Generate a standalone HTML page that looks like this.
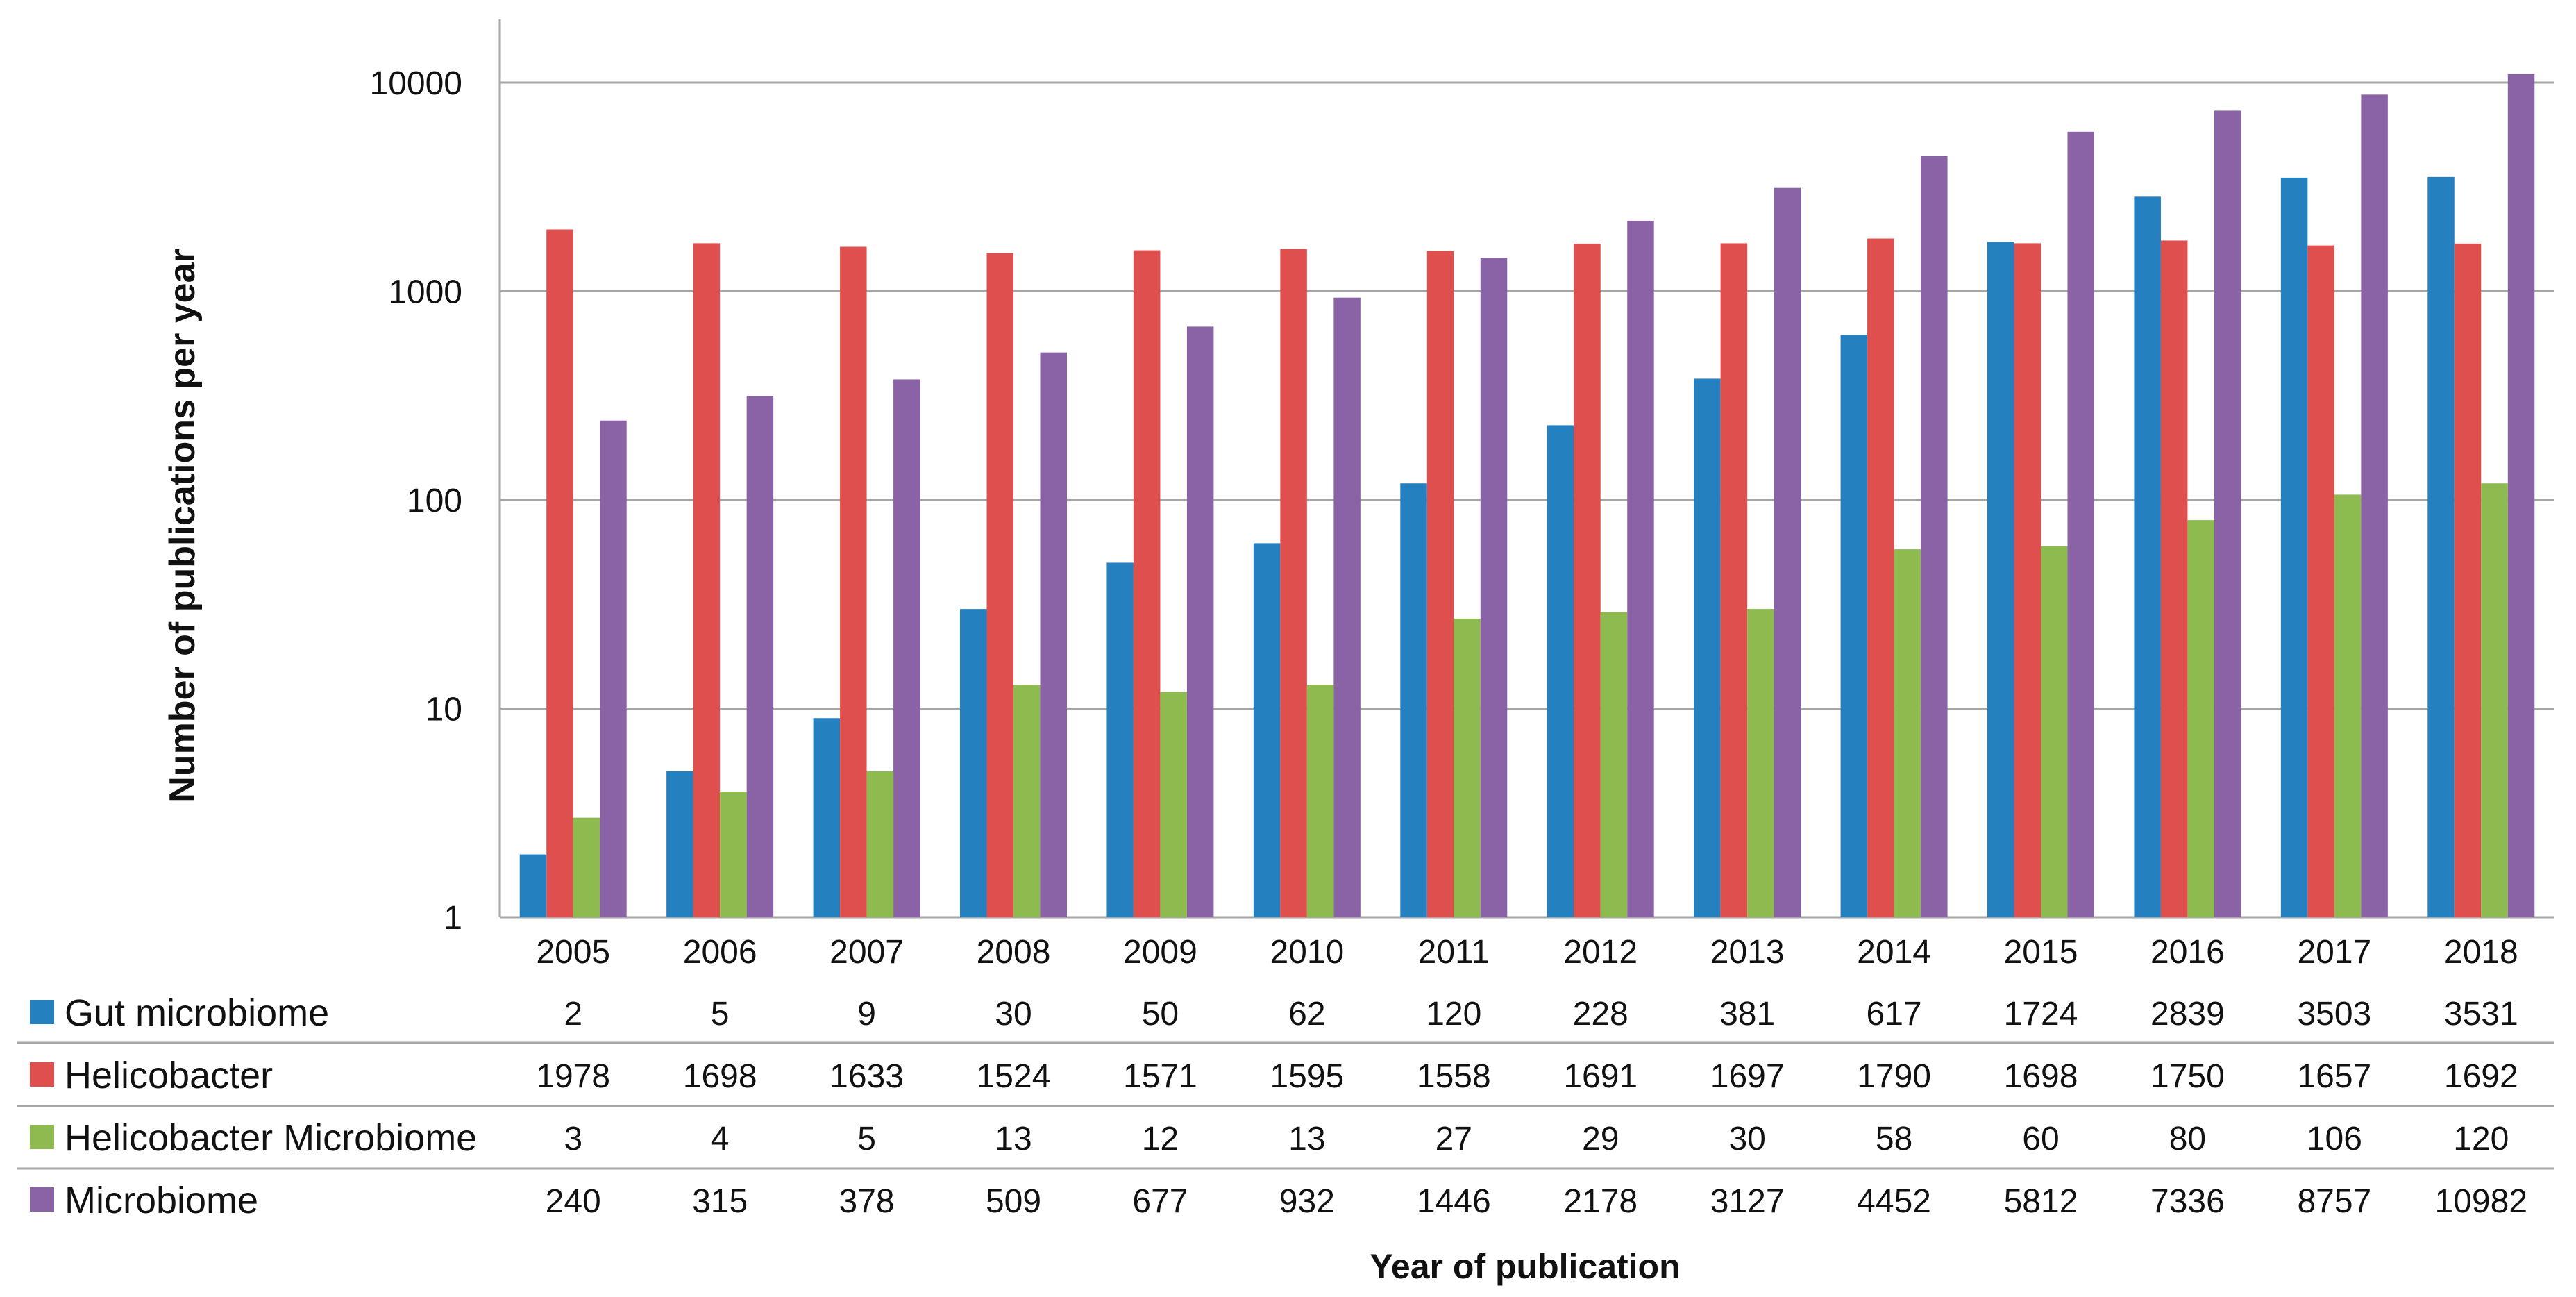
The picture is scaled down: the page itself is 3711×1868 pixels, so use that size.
<!DOCTYPE html>
<html><head><meta charset="utf-8"><style>
html,body{margin:0;padding:0;background:#fff}
svg{display:block}
text{font-family:"Liberation Sans",sans-serif;fill:#111}
</style></head><body>
<svg id="chart" width="3711" height="1868" viewBox="0 0 3711 1868" xmlns="http://www.w3.org/2000/svg">
<text transform="translate(280,757) rotate(-90)" text-anchor="middle" font-size="52" font-weight="bold">Number of publications per year</text>
<text x="2197" y="1841" text-anchor="middle" font-size="50" font-weight="bold">Year of publication</text>
<g id="grid"></g><g id="bars"></g><g id="table"></g>
</svg>
<script>
const years = ["2005","2006","2007","2008","2009","2010","2011","2012","2013","2014","2015","2016","2017","2018"];
const seriesNames = ["Gut microbiome","Helicobacter","Helicobacter Microbiome","Microbiome"];
const gut = [2,5,9,30,50,62,120,228,381,617,1724,2839,3503,3531];
const helico = [1978,1698,1633,1524,1571,1595,1558,1691,1697,1790,1698,1750,1657,1692];
const helicoMicro = [3,4,5,13,12,13,27,29,30,58,60,80,106,120];
const micro = [240,315,378,509,677,932,1446,2178,3127,4452,5812,7336,8757,10982];
const yTicks = [1,10,100,1000,10000];
const colors = ["#2580c0","#de4f4d","#8dbb4f","#8a63a6"];
const allSeries = [gut, helico, helicoMicro, micro];
const NS = "http://www.w3.org/2000/svg";
const L = 720, R = 3680, TOP = 28, BASE = 1321, DEC = 300.5;
const catW = (R - L) / years.length;
const barW = 38.5;
function yPos(v){ return BASE - Math.log10(v) * DEC; }
function xCenter(i){ return L + catW * (i + 0.5); }
function mk(tag, attrs, parent){ const e = document.createElementNS(NS, tag); for (const k in attrs) e.setAttribute(k, attrs[k]); parent.appendChild(e); return e; }
const grid = document.getElementById("grid"), bars = document.getElementById("bars"), table = document.getElementById("table");
yTicks.forEach(t => {
  const y = yPos(t);
  const ln = mk("line", {x1:L, x2:R, y1:y, y2:y, stroke:"#a6a6a6", "stroke-width":3}, grid);
  
  
  const tx = mk("text", {x:666, y:y + 17, "text-anchor":"end", "font-size":48}, grid);
  tx.textContent = t;
  
  
});
const ax = mk("line", {x1:L, x2:L, y1:TOP, y2:BASE, stroke:"#a6a6a6", "stroke-width":3}, grid);


years.forEach((yr, i) => {
  const cx = xCenter(i);
  const tx = mk("text", {x:cx, y:1387, "text-anchor":"middle", "font-size":48}, grid);
  tx.textContent = yr;
  
  
  allSeries.forEach((s, k) => {
    const x = cx - 2 * barW + k * barW;
    const y = yPos(s[i]);
    const r = mk("rect", {x:x, y:y, width:barW, height:Math.max(0, BASE - y), fill:colors[k]}, bars);
    
    
  });
});
const rowY = [1458, 1548, 1638, 1728];
[1502, 1593, 1683].forEach((y, j) => {
  const ln = mk("line", {x1:24, x2:R, y1:y, y2:y, stroke:"#a6a6a6", "stroke-width":3}, table);
  
  
});
seriesNames.forEach((name, k) => {
  const y = rowY[k];
  const sq = mk("rect", {x:43, y:y - 18, width:35, height:35, fill:colors[k]}, table);
  
  
  const lb = mk("text", {x:93, y:y + 19, "font-size":54}, table);
  lb.textContent = name;
  
  
  allSeries[k].forEach((v, i) => {
    const t = mk("text", {x:xCenter(i), y:y + 18, "text-anchor":"middle", "font-size":48}, table);
    t.textContent = v;
    
    
  });
});
</script>
</body></html>
